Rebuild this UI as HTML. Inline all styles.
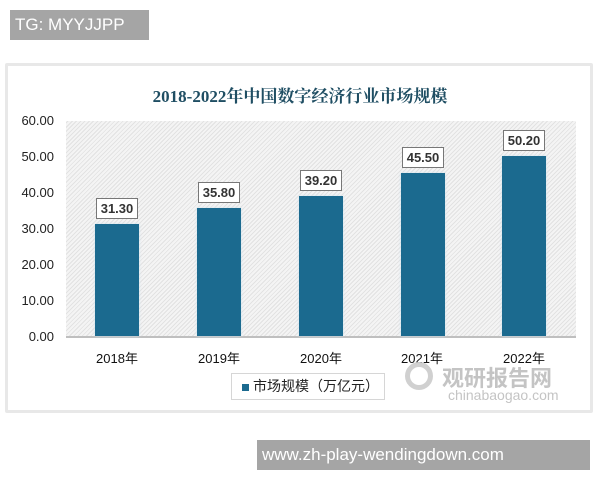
<!DOCTYPE html>
<html><head><meta charset="utf-8"><style>
body{margin:0;width:600px;height:480px;background:#fff;position:relative;overflow:hidden;font-family:"Liberation Sans","Noto Sans CJK SC",sans-serif}
.abs{position:absolute}
.tg{left:10px;top:10px;width:139px;height:30px;background:#a5a5a5;color:#fff;font-size:17px;line-height:30px;padding-left:5px;box-sizing:border-box}
.card{left:5px;top:63px;width:588px;height:350px;background:#fff;border:3px solid #e8e8e8;border-radius:2px;box-sizing:border-box}
.title{left:0;width:600px;top:82px;text-align:center;font:bold 17px "Liberation Serif","Noto Serif CJK SC",serif;color:#1f4e63}
.plot{left:66px;top:121px;width:510px;height:216px;background:repeating-linear-gradient(135deg,#f4f4f4 0 1px,#e2e2e2 1px 2px,#f4f4f4 2px 3px)}
.axis{left:66px;top:336px;width:510px;height:2px;background:#bfbfbf}
.yl{left:14px;width:40px;text-align:right;font-size:13px;color:#222}
.bar{width:44px;background:#1b6a8f;box-shadow:0 0 3px #cfe3ee}
.lab{width:42px;height:21px;border:1px solid #777;background:#fff;box-sizing:border-box;text-align:center;font-weight:bold;font-size:13px;line-height:19px;color:#333}
.xl{width:80px;text-align:center;font-size:13px;color:#111;top:348px}
.leg{left:231px;top:373px;width:154px;height:27px;border:1px solid #d6d6d6;box-sizing:border-box;font-size:14px;line-height:25px;color:#222;padding-left:10px}
.bot{left:257px;top:440px;width:333px;height:30px;background:#a5a5a5;color:#fff;font-size:17px;line-height:30px;padding-left:5px;box-sizing:border-box}
</style></head><body>
<div class="abs tg">TG: MYYJJPP</div>
<div class="abs card"></div>
<div class="abs title">2018-2022年中国数字经济行业市场规模</div>
<div class="abs plot"></div>
<div class="abs axis"></div>
<div class="abs yl" style="top:113px">60.00</div>
<div class="abs yl" style="top:149px">50.00</div>
<div class="abs yl" style="top:185px">40.00</div>
<div class="abs yl" style="top:221px">30.00</div>
<div class="abs yl" style="top:257px">20.00</div>
<div class="abs yl" style="top:293px">10.00</div>
<div class="abs yl" style="top:329px">0.00</div>

<div class="abs bar" style="left:95px;top:224px;height:112px"></div>
<div class="abs lab" style="left:96px;top:198px">31.30</div>
<div class="abs bar" style="left:197px;top:208px;height:128px"></div>
<div class="abs lab" style="left:198px;top:182px">35.80</div>
<div class="abs bar" style="left:299px;top:196px;height:140px"></div>
<div class="abs lab" style="left:300px;top:170px">39.20</div>
<div class="abs bar" style="left:401px;top:173px;height:163px"></div>
<div class="abs lab" style="left:402px;top:147px">45.50</div>
<div class="abs bar" style="left:502px;top:156px;height:180px"></div>
<div class="abs lab" style="left:503px;top:130px">50.20</div>

<div class="abs xl" style="left:77px">2018年</div>
<div class="abs xl" style="left:179px">2019年</div>
<div class="abs xl" style="left:281px">2020年</div>
<div class="abs xl" style="left:382px">2021年</div>
<div class="abs xl" style="left:484px">2022年</div>

<div class="abs leg"><span style="display:inline-block;width:7px;height:7px;background:#1b6a8f;margin-right:4px"></span>市场规模（万亿元）</div>
<div class="abs" style="left:442px;top:361px;font:bold 22px 'Noto Sans CJK SC',sans-serif;color:#c4c4c4">观研报告网</div>
<div class="abs" style="left:448px;top:387px;font-size:14px;color:#c4c4c4">chinabaogao.com</div>
<div class="abs" style="left:405px;top:362px;width:28px;height:28px;border:5px solid #d0d0d0;border-radius:50%;box-sizing:border-box"></div>
<div class="abs bot">www.zh-play-wendingdown.com</div>
</body></html>
